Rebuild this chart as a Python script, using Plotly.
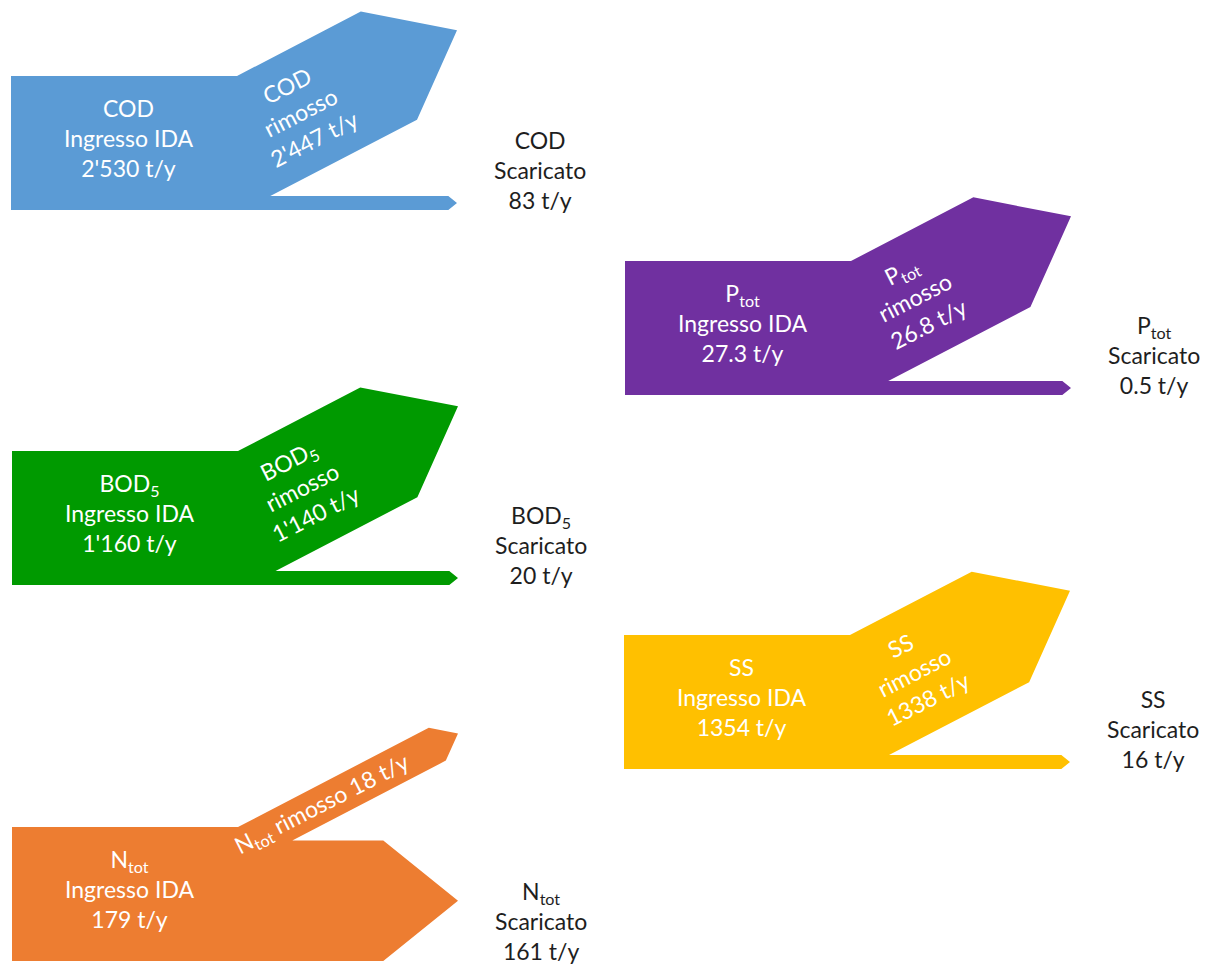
import math
import plotly.graph_objects as go

# ---------------- data ----------------
pollutants = ["COD", "BOD<sub>5</sub>", "N<sub>tot</sub>", "P<sub>tot</sub>", "SS"]
ingresso = [2530, 1160, 179, 27.3, 1354]          # t/y in ingresso IDA
rimosso = [2447, 1140, 18, 26.8, 1338]            # t/y rimosso
scaricato = [83, 20, 161, 0.5, 16]                # t/y scaricato
ingresso_txt = ["2'530 t/y", "1'160 t/y", "179 t/y", "27.3 t/y", "1354 t/y"]
rimosso_txt = ["2'447 t/y", "1'140 t/y", "18 t/y", "26.8 t/y", "1338 t/y"]
scaricato_txt = ["83 t/y", "20 t/y", "161 t/y", "0.5 t/y", "16 t/y"]

# ---------------- layout / style ----------------
colors = ["#5B9BD5", "#009A00", "#ED7D31", "#7030A0", "#FFC000"]
origin_x = [11, 12, 12, 625, 624]
origin_y = [76, 451, 827, 261, 635]
label_u = [40, 40, 85, 40, 40]
single_line_removed = [False, False, True, False, False]

H = 134          # input band height
LT = 226         # straight top length before the branch
TH = math.atan(0.52)
S, C = math.sin(TH), math.cos(TH)
REACH = 446      # tip x distance from left
TIP_R = 0.63
TIP_D = 0.62
MIN_D = 14
MIN_R = 37
K_R = 0.94
FONT = "Lato"
PAGE_OFF = 8     # browser body margin


def geometry(x0, yt, inp, rem, dis):
    dw = max(H * dis / inp, MIN_D)
    wr = max(K_R * H * rem / inp, MIN_R)
    ax, ay = x0 + LT, yt
    xt = x0 + REACH

    def P(u, v):
        return (ax + u * C + v * S, ay - u * S + v * C)

    u_tip = (xt - ax - wr / 2 * S) / C
    u_end = u_tip - TIP_R * wr
    yd = yt + H - dw
    xi = ax + (wr - (H - dw) * C) / S
    pts = [(x0, yt), (ax, ay), P(u_end, 0), P(u_tip, wr / 2), P(u_end, wr),
           (xi, yd), (xt - TIP_D * dw, yd), (xt, yt + H - dw / 2),
           (xt - TIP_D * dw, yt + H), (x0, yt + H), (x0, yt)]
    return pts, P, wr


fig = go.Figure()
annotations = []
for i, name in enumerate(pollutants):
    x0, yt = origin_x[i], origin_y[i]
    pts, P, wr = geometry(x0, yt, ingresso[i], rimosso[i], scaricato[i])
    fig.add_trace(go.Scatter(
        x=[p[0] for p in pts], y=[p[1] for p in pts],
        mode="lines", fill="toself", fillcolor=colors[i],
        line=dict(width=0, color=colors[i]), hoverinfo="skip", showlegend=False))

    # input label
    annotations.append(dict(
        x=x0 + 117, y=yt + 62, text=f"{name}<br>Ingresso IDA<br>{ingresso_txt[i]}",
        font=dict(family=FONT, size=23, color="white")))
    # removed label
    lx, ly = P(label_u[i], wr / 2)
    if single_line_removed[i]:
        rtxt = f"{name} rimosso {rimosso_txt[i]}"
    else:
        rtxt = f"{name}<br>rimosso<br>{rimosso_txt[i]}"
    annotations.append(dict(
        x=lx, y=ly, text=rtxt, textangle=-27,
        font=dict(family=FONT, size=23, color="white")))
    # discharge label
    annotations.append(dict(
        x=x0 + 529, y=yt + 94, text=f"{name}<br>Scaricato<br>{scaricato_txt[i]}",
        font=dict(family=FONT, size=23, color="#1e1e1e")))

for a in annotations:
    a.update(xref="x", yref="y", showarrow=False, xanchor="center", yanchor="middle")

W, HGT = 1218, 966
fig.update_layout(
    width=W - PAGE_OFF, height=HGT - PAGE_OFF,
    margin=dict(l=0, r=0, t=0, b=0),
    paper_bgcolor="white", plot_bgcolor="white",
    xaxis=dict(range=[PAGE_OFF, W], visible=False, fixedrange=True),
    yaxis=dict(range=[HGT, PAGE_OFF], visible=False, fixedrange=True),
    annotations=annotations,
    showlegend=False,
)

fig.write_html("out.html")
